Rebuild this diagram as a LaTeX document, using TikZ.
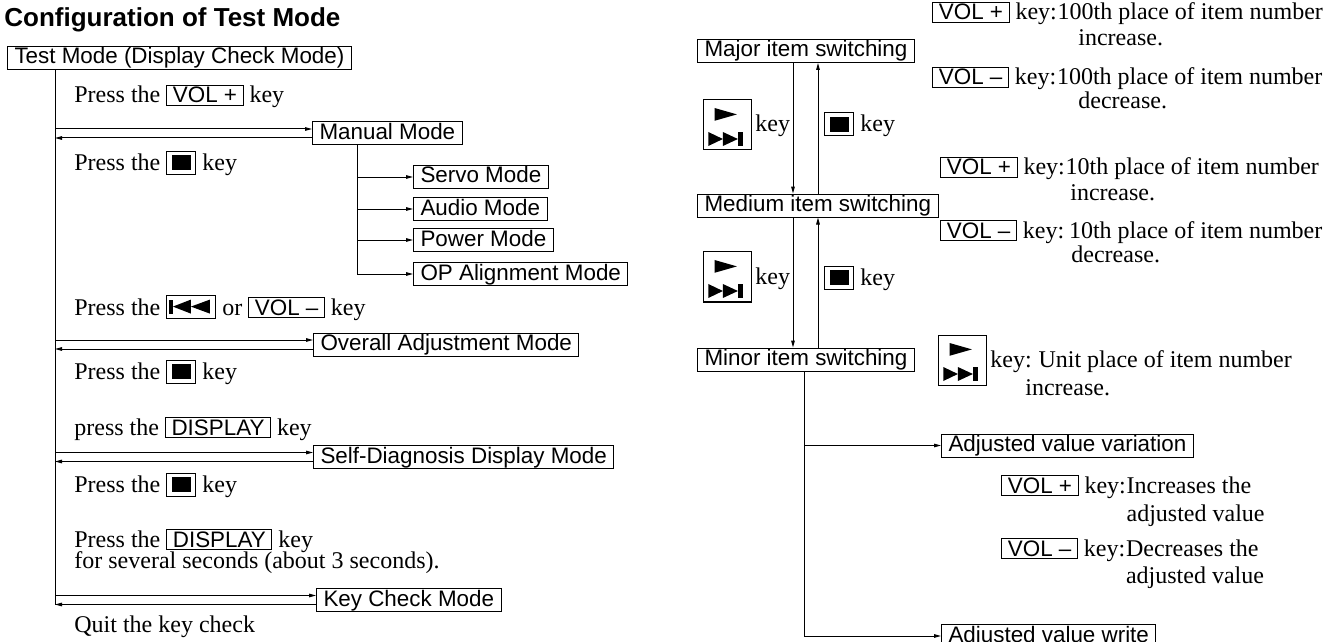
\documentclass[tikz,border=0pt]{standalone}
\usepackage{fontspec}
\setmainfont{Liberation Serif}
\setsansfont{Liberation Sans}
\usetikzlibrary{arrows.meta,positioning,calc}

\tikzset{
    modebox/.style={draw, line width=0.5pt, font=\sffamily\fontsize{11.2}{13}\selectfont, inner xsep=3.5pt, inner ysep=0.75pt, text height=8pt, text depth=2pt},
    keynode/.style={draw, line width=0.5pt, font=\sffamily\fontsize{11.2}{13}\selectfont, inner xsep=3pt, inner ysep=1.1pt, text height=7.8pt, text depth=0pt},
    note/.style={font=\fontsize{12}{13}\selectfont, inner sep=0pt, anchor=base west},
    titletext/.style={font=\sffamily\bfseries\fontsize{13}{15}\selectfont, inner sep=0pt, anchor=base west},
    flowarr/.style={-{Triangle[length=3.5pt,width=1.8pt]}, line width=0.5pt},
    plainline/.style={line width=0.5pt},
}

% key symbols
\newcommand{\keybox}[1]{\tikz[baseline=(kb.base)]\node[keynode] (kb) {#1};}
\newcommand{\stopkey}{\tikz[x=1pt,y=1pt,baseline=2pt,line width=0.5pt]{\draw (0,0) rectangle (14.5,11.5); \fill (2.5,2.2) rectangle (12,9.4);}}
\newcommand{\prevkey}{\tikz[x=1pt,y=1pt,baseline=1.5pt,line width=0.5pt]{\draw (0,0) rectangle (24.5,11.3); \fill (1.3,2.2) rectangle (3,9.2); \fill (3,5.7) -- (12,9.2) -- (12,2.2) -- cycle; \fill (12,5.7) -- (21.5,9.2) -- (21.5,2.2) -- cycle;}}
\newcommand{\playkey}{\tikz[x=1pt,y=1pt,baseline=9pt,line width=0.5pt]{\draw (0,0) rectangle (24,25); \fill (5.3,21) -- (16.5,17.8) -- (5.3,14.6) -- cycle; \fill (2.2,9) -- (9.5,5.5) -- (2.2,2) -- cycle; \fill (9.5,9) -- (17,5.5) -- (9.5,2) -- cycle; \fill (17,2) rectangle (19.5,9);}}

\begin{document}
\begin{tikzpicture}[x=0.5pt,y=-0.5pt]
\useasboundingbox (0,0) rectangle (1344,642);

\node[titletext] (title) at (4,27) {Configuration of Test Mode};
\node[modebox, anchor=north west] (test) at (7,46) {Test Mode (Display Check Mode)};
\coordinate (tx) at (55,0);

\node[note] (n1) at (74,103) {Press the \keybox{VOL +} key};
\node[modebox, anchor=west] (manual) at (312,133.5) {Manual Mode};
\node[note] (n2) at (74,170) {Press the \stopkey{} key};
\coordinate (sx) at (357,0);
\node[modebox, anchor=west] (servo) at (413,177) {Servo Mode};
\node[modebox, anchor=west] (audio) at (413,209) {Audio Mode};
\node[modebox, anchor=west] (power) at (413,240) {Power Mode};
\node[modebox, anchor=west] (opalign) at (413,274) {OP Alignment Mode};
\node[note] (n3) at (74,315) {Press the \prevkey{} or \keybox{VOL –} key};
\node[modebox, anchor=west] (overall) at (313,344.5) {Overall Adjustment Mode};
\node[note] (n4) at (74,379) {Press the \stopkey{} key};
\node[note] (n5) at (74,435) {press the \keybox{DISPLAY} key};
\node[modebox, anchor=west] (selfdiag) at (313,457) {Self-Diagnosis Display Mode};
\node[note] (n6) at (74,492) {Press the \stopkey{} key};
\node[note] (n7) at (74,547) {Press the \keybox{DISPLAY} key};
\node[note] (n8) at (74,568) {for several seconds (about 3 seconds).};
\node[modebox, anchor=west] (keycheck) at (316,600) {Key Check Mode};
\node[note] (n9) at (74,632) {Quit the key check};

% enter and leave each mode
\foreach \m in {manual,overall,selfdiag,keycheck}{
    \path ([yshift=2.25pt]\m.west) coordinate (go) ([yshift=-2.25pt]\m.west) coordinate (back);
    \draw[flowarr] (go -| tx) -- (go);
    \draw[flowarr] (back) -- (back -| tx);
}
\path ([yshift=-2.25pt]keycheck.west) coordinate (trunkend);
\draw[plainline] (tx |- test.south) -- (trunkend -| tx);

\draw[plainline] (sx |- manual.south) -- (sx |- opalign.west);
\foreach \m in {servo,audio,power,opalign}
    \draw[flowarr] (sx |- \m.west) -- (\m.west);

% right side
\node[modebox, anchor=west] (major) at (697,51) {Major item switching};
\node[modebox, anchor=west] (medium) at (697,205.5) {Medium item switching};
\node[modebox, anchor=west] (minor) at (697,359.5) {Minor item switching};
\coordinate (dn) at (793,0);
\coordinate (up) at (818,0);
\draw[flowarr] (dn |- major.south) -- (dn |- medium.north);
\draw[flowarr] (up |- medium.north) -- (up |- major.south);
\draw[flowarr] (dn |- medium.south) -- (dn |- minor.north);
\draw[flowarr] (up |- minor.north) -- (up |- medium.south);

\node[note] (fw1) at (703,132) {\playkey\kern1.5pt key};
\node[note] (st1) at (824,132) {\stopkey{} key};
\node[note] (fw2) at (703,284) {\playkey\kern1.5pt key};
\node[note] (st2) at (824,285) {\stopkey{} key};

\node[note] (k1) at (932,20) {\keybox{VOL +} key:};
\node[note] (t1) at (k1.base east) {100th place of item number};
\node[note] at (1078,46) {increase.};
\node[note] (k2) at (932,85) {\keybox{VOL –} key:};
\node[note] (t2) at (k2.base east) {100th place of item number};
\node[note] at (1078,109) {decrease.};
\node[note] (k3) at (940,175) {\keybox{VOL +} key:};
\node[note] (t3) at (k3.base east) {10th place of item number};
\node[note] at (1070,200) {increase.};
\node[note] (k4) at (940,238) {\keybox{VOL –} key:};
\node[note] (t4) at ([xshift=2pt]k4.base east) {10th place of item number};
\node[note] at (1071,262) {decrease.};

\node[note] (fw3) at (938,367) {\playkey\kern1.5pt key:};
\node[note] (t5) at ([xshift=3pt]fw3.base east) {Unit place of item number};
\node[note] at (1025,395) {increase.};

\coordinate (mx) at (804,0);
\node[modebox, anchor=west] (vary) at (941,445.5) {Adjusted value variation};
\node[modebox, anchor=west] (write) at (941,636) {Adjusted value write};
\draw[plainline] (mx |- minor.south) -- (mx |- write.west);
\draw[flowarr] (mx |- vary.west) -- (vary.west);
\draw[flowarr] (mx |- write.west) -- (write.west);

\node[note] (k6) at (1001,493) {\keybox{VOL +} key:};
\node[note] (t6) at (k6.base east) {Increases the};
\node[note] at ($(t6.base west)+(0,28)$) {adjusted value};
\node[note] (k7) at (1001,556) {\keybox{VOL –} key:};
\node[note] (t7) at (k7.base east) {Decreases the};
\node[note] at ($(t7.base west)+(0,27)$) {adjusted value};
\end{tikzpicture}
\end{document}
